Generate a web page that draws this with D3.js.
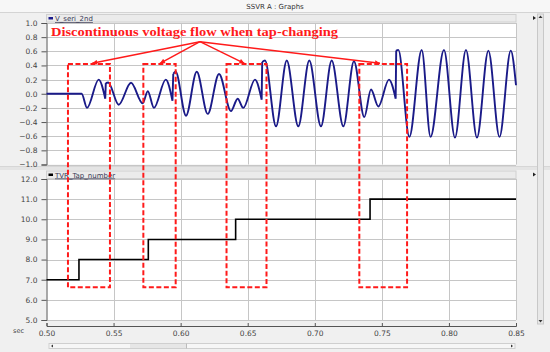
<!DOCTYPE html>
<html><head><meta charset="utf-8">
<script src="https://cdn.jsdelivr.net/npm/d3@7"></script>
<style>body{margin:0;background:#f0f0f0}svg{display:block}</style>
</head><body><svg id="c" width="550" height="352"></svg>
<script>
// ---- data ----
const chartTitle = "SSVR  A : Graphs";
const seriesTopName = "V_seri_2nd";
const seriesBotName = "TVR_Tap_number";
const timeTicks = [0.50,0.55,0.60,0.65,0.70,0.75,0.80,0.85];
const topTicks = [-1.0,-0.8,-0.6,-0.4,-0.2,0.0,0.2,0.4,0.6,0.8,1.0];
const botTicks = [5,6,7,8,9,10,11,12];
const vTime = [0.5000,0.5262,0.5302,0.5389,0.5438,0.5442,0.5460,0.5538,0.5630,0.5717,0.5755,0.5801,0.5889,0.5939,0.5945,0.5963,0.6040,0.6120,0.6202,0.6286,0.6375,0.6425,0.6467,0.6554,0.6604,0.6608,0.6629,0.6711,0.6791,0.6877,0.6959,0.7046,0.7126,0.7213,0.7292,0.7369,0.7419,0.7474,0.7553,0.7603,0.7607,0.7623,0.7705,0.7797,0.7863,0.7963,0.8045,0.8127,0.8209,0.8294,0.8377,0.8461,0.8500];
const vSeri = [0.00,0.00,-0.20,0.20,-0.07,0.15,0.16,-0.155,0.155,-0.135,0.035,-0.20,0.20,-0.10,0.28,0.31,-0.31,0.31,-0.285,0.28,-0.245,-0.07,-0.20,0.20,-0.085,0.45,0.47,-0.46,0.47,-0.46,0.47,-0.46,0.47,-0.46,0.46,-0.33,0.06,-0.18,0.20,-0.07,0.61,0.62,-0.61,0.62,-0.61,0.62,-0.62,0.62,-0.62,0.61,-0.61,0.61,0.12];
const tapTime = [0.5000,0.5242,0.5759,0.6410,0.7412,0.8500];
const tapNumber = [7,8,9,10,11,11];
const noteText = "Discontinuous voltage flow when tap-changing";
const boxStart = [0.5160,0.5722,0.6342,0.7332];
const boxEnd = [0.5473,0.5963,0.6640,0.7688];
const boxTopV = 0.42, boxBottomTap = 6.62;
const arrowFrom = {t:0.6144, v:0.736};
const arrowToT = [0.5341,0.5846,0.6475,0.7486];
const arrowToV = 0.43;

// ---- layout ----
const svg = d3.select("#c");
const X0 = 46.5, X1 = 516;
const x = d3.scaleLinear().domain([0.5,0.85]).range([X0,X1]);
const yT = d3.scaleLinear().domain([-1,1]).range([164.5,23]);
const yB = d3.scaleLinear().domain([5,12]).range([320,179]);
const font = "'DejaVu Sans', Verdana, sans-serif";
const grid = "#c6c6c6";

svg.append("rect").attr("width",550).attr("height",352).attr("fill","#f0f0f0");
svg.append("rect").attr("x",0).attr("y",0).attr("width",550).attr("height",12).attr("fill","#f7f7f7");
svg.append("line").attr("x1",0).attr("x2",550).attr("y1",12.5).attr("y2",12.5).attr("stroke","#d4d4d4");
svg.append("text").attr("x",275).attr("y",9).attr("text-anchor","middle").attr("font-family",font).attr("font-size",7).attr("fill","#333").text(chartTitle);
// splitter between panels
svg.append("rect").attr("x",0).attr("y",166).attr("width",550).attr("height",4).attr("fill","#e4e4e4");
svg.append("line").attr("x1",0).attr("x2",550).attr("y1",166.5).attr("y2",166.5).attr("stroke","#d6d6d6");

function panel(y, ticks, fmt, hdrY, name, markColor){
  const [b,t] = y.range();
  svg.append("rect").attr("x",X0).attr("y",t).attr("width",X1-X0).attr("height",b-t).attr("fill","#fff");
  const g = svg.append("g");
  g.selectAll("line.h").data(ticks).join("line").attr("x1",X0).attr("x2",X1)
    .attr("y1",d=>Math.round(y(d))+0.5).attr("y2",d=>Math.round(y(d))+0.5).attr("stroke",grid);
  g.selectAll("line.v").data(timeTicks.slice(1,-1)).join("line").attr("y1",t).attr("y2",b)
    .attr("x1",d=>Math.round(x(d))+0.5).attr("x2",d=>Math.round(x(d))+0.5).attr("stroke",grid);
  svg.append("line").attr("x1",X1+0.5).attr("x2",X1+0.5).attr("y1",t).attr("y2",b).attr("stroke",grid);
  const ax = svg.append("g").attr("transform",`translate(${X0},0)`)
    .call(d3.axisLeft(y).tickValues(ticks).tickFormat(fmt).tickSize(5).tickPadding(4));
  ax.selectAll("text").attr("font-family",font).attr("font-size",7.5).attr("fill","#444");
  ax.selectAll("line,path").attr("stroke","#555");
  svg.append("rect").attr("x",X0).attr("y",hdrY).attr("width",X1-X0).attr("height",7.5).attr("fill","#ebebeb").attr("stroke","#d0d0d0");
  svg.append("rect").attr("x",X0+2).attr("y",hdrY+2.5).attr("width",4.5).attr("height",2.5).attr("fill",markColor);
  svg.append("text").attr("x",X0+8.5).attr("y",hdrY+6.5).attr("font-family",font).attr("font-size",7)
    .attr("fill","#3a3a55").attr("text-decoration","underline").text(name);
  svg.append("path").attr("d",`M${X1+17},${hdrY+1.5}l3,2l-3,2z`).attr("fill","#222");
}
panel(yT, topTicks, d3.format(".1f"), 14.5, seriesTopName, "#1c1c8c");
panel(yB, botTicks, d3.format(".1f"), 171, seriesBotName, "#000");

const xa = svg.append("g").attr("transform","translate(0,326)")
  .call(d3.axisBottom(x).tickValues(timeTicks).tickFormat(d3.format(".2f")).tickSize(-3).tickPadding(5));
xa.selectAll("text").attr("font-family",font).attr("font-size",7.5).attr("fill","#444");
xa.selectAll("line,path").attr("stroke","#555");
svg.append("text").attr("x",13).attr("y",333).attr("font-family",font).attr("font-size",6.5).attr("fill","#444").text("sec");
// horizontal scrollbar
svg.append("rect").attr("x",49).attr("y",343.5).attr("width",466).attr("height",5).attr("fill","#f6f6f6").attr("stroke","#cfcfcf");
svg.append("rect").attr("x",130).attr("y",344).attr("width",56).attr("height",4).attr("fill","#e6e6e6");
svg.append("line").attr("x1",186.5).attr("x2",186.5).attr("y1",343.5).attr("y2",348.5).attr("stroke","#bbb");
svg.append("path").attr("d","M53,344.5l-2,1.5l2,1.5z").attr("fill","#333");
svg.append("path").attr("d","M511,344.5l2,1.5l-2,1.5z").attr("fill","#333");
// right strip
svg.append("rect").attr("x",537.5).attr("y",14).attr("width",6).attr("height",310).attr("fill","#e8e8e8").attr("stroke","#c8c8c8");
svg.append("path").attr("d","M540.5,15.5l-2,2.5h4z").attr("fill","#333");
svg.append("path").attr("d","M540.5,322.5l-2,-2.5h4z").attr("fill","#333");

// voltage line with jumps
const pts = vTime.map((t,i)=>({t,v:vSeri[i]}));
const segs=[]; let cur=[pts[0]];
for(let i=1;i<pts.length;i++){ if(pts[i].t-pts[i-1].t<0.001){segs.push(cur);cur=[pts[i]];} else cur.push(pts[i]); }
segs.push(cur);
const ln = d3.line().x(d=>x(d.t)).y(d=>yT(d.v)).curve(d3.curveMonotoneX);
let dstr = segs.map(s=>ln(s)).join("");
segs.slice(1).forEach((s,i)=>{const a=segs[i][segs[i].length-1]; dstr+=`M${x(a.t)},${yT(a.v)}L${x(s[0].t)},${yT(s[0].v)}`;});
svg.append("path").attr("d",dstr).attr("fill","none").attr("stroke","#1a1a88").attr("stroke-width",1.9);

// tap number
svg.append("path").datum(tapTime.map((t,i)=>({t,v:tapNumber[i]})))
  .attr("d",d3.line().x(d=>x(d.t)).y(d=>yB(d.v)).curve(d3.curveStepAfter))
  .attr("fill","none").attr("stroke","#000").attr("stroke-width",1.6);

// annotations
const red="#ff1a1a";
boxStart.forEach((s,i)=>{
  svg.append("rect").attr("x",x(s)).attr("y",yT(boxTopV)).attr("width",x(boxEnd[i])-x(s))
    .attr("height",yB(boxBottomTap)-yT(boxTopV)).attr("fill","none").attr("stroke",red)
    .attr("stroke-width",2).attr("stroke-dasharray","5,2.5");
});
svg.append("defs").append("marker").attr("id","ah").attr("viewBox","0 0 10 10").attr("refX",10).attr("refY",5)
  .attr("markerWidth",7).attr("markerHeight",5).attr("orient","auto").attr("markerUnits","userSpaceOnUse")
  .append("path").attr("d","M0,0L10,5L0,10z").attr("fill",red);
arrowToT.forEach(t=>{
  svg.append("line").attr("x1",x(arrowFrom.t)).attr("y1",yT(arrowFrom.v)).attr("x2",x(t)).attr("y2",yT(arrowToV))
    .attr("stroke",red).attr("stroke-width",1.5).attr("marker-end","url(#ah)");
});
svg.append("text").attr("x",51).attr("y",36).attr("font-family","'Liberation Serif','Times New Roman',serif")
  .attr("font-weight","bold").attr("font-size",13.5).attr("fill",red).attr("textLength",287).attr("lengthAdjust","spacingAndGlyphs").text(noteText);
</script></body></html>
